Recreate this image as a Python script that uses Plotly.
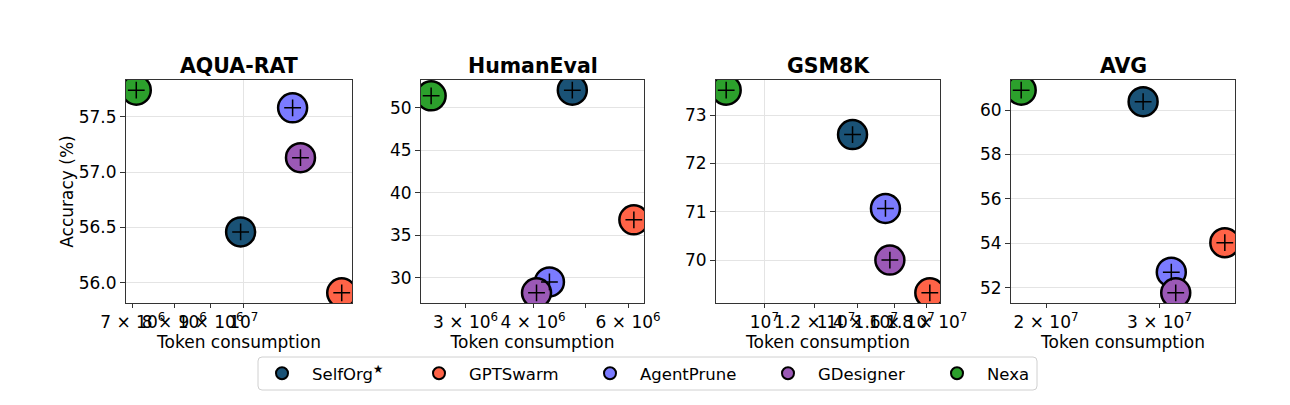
import numpy as np
import plotly.graph_objects as go

# ---------------- data ----------------
methods = ["SelfOrg<sup>★</sup>", "GPTSwarm", "AgentPrune", "GDesigner", "Nexa"]
colors = ["#1a5276", "#ff6347", "#7b7bff", "#9b59b6", "#2ca02c"]

datasets = ["AQUA-RAT", "HumanEval", "GSM8K", "AVG"]

aqua_tokens = [9.9e6, 1.37e7, 1.17e7, 1.20e7, 7.08e6]
aqua_acc = [56.46, 55.91, 57.58, 57.13, 57.74]

humaneval_tokens = [4.73e6, 6.15e6, 4.29e6, 4.06e6, 2.59e6]
humaneval_acc = [52.07, 36.83, 29.53, 28.24, 51.40]

gsm8k_tokens = [1.376e7, 1.82e7, 1.55e7, 1.575e7, 8.71e6]
gsm8k_acc = [72.60, 69.32, 71.07, 70.00, 73.52]

avg_tokens = [2.83e7, 3.79e7, 3.13e7, 3.18e7, 1.83e7]
avg_acc = [60.38, 54.03, 52.70, 51.77, 60.90]

# tick values / labels
x_tickvals = [
    [7e6, 8e6, 9e6, 1e7],
    [3e6, 4e6, 5e6, 6e6],
    [1e7, 1.2e7, 1.4e7, 1.6e7, 1.8e7],
    [2e7, 3e7],
]
x_ticktext = [
    ["7 × 10<sup>6</sup>", "8 × 10<sup>6</sup>", "9 × 10<sup>6</sup>", "10<sup>7</sup>"],
    ["3 × 10<sup>6</sup>", "4 × 10<sup>6</sup>", "", "6 × 10<sup>6</sup>"],
    ["10<sup>7</sup>", "1.2 × 10<sup>7</sup>", "1.4 × 10<sup>7</sup>", "1.6 × 10<sup>7</sup>", "1.8 × 10<sup>7</sup>"],
    ["2 × 10<sup>7</sup>", "3 × 10<sup>7</sup>"],
]
x_gridvals = [[1e7], [], [1e7], []]
y_tickvals = [
    [56.0, 56.5, 57.0, 57.5],
    [30, 35, 40, 45, 50],
    [70, 71, 72, 73],
    [52, 54, 56, 58, 60],
]
y_ticktext = [
    ["56.0", "56.5", "57.0", "57.5"],
    ["30", "35", "40", "45", "50"],
    ["70", "71", "72", "73"],
    ["52", "54", "56", "58", "60"],
]

all_tokens = [aqua_tokens, humaneval_tokens, gsm8k_tokens, avg_tokens]
all_acc = [aqua_acc, humaneval_acc, gsm8k_acc, avg_acc]

# ---------------- layout geometry ----------------
W, H = 1290, 405
x_px = [(126, 352), (421, 644), (716, 940), (1011, 1235)]
y_px = (80, 303)
legend_marker_px = [282, 439, 610, 788, 957]
legend_box_px = (258, 1037, 357, 390)
FONT = "DejaVu Sans"

fig = go.Figure()
layout = dict(
    width=W, height=H,
    margin=dict(l=0, r=0, t=0, b=0, autoexpand=False),
    paper_bgcolor="white", plot_bgcolor="white",
    font=dict(family=FONT, color="black", size=16),
    showlegend=True,
)

annotations = []
for k in range(4):
    xs = np.array(all_tokens[k])
    ys = np.array(all_acc[k])
    lx = np.log10(xs)
    lpad = 0.05 * (lx.max() - lx.min())
    ypad = 0.05 * (ys.max() - ys.min())
    xr = [lx.min() - lpad, lx.max() + lpad]
    yr = [ys.min() - ypad, ys.max() + ypad]

    sfx = "" if k == 0 else str(k + 1)
    xa, ya = "x" + sfx, "y" + sfx
    layout["xaxis" + sfx] = dict(
        type="log", range=xr,
        domain=[x_px[k][0] / W, x_px[k][1] / W],
        anchor=ya, automargin=False, tickangle=0,
        tickmode="array", tickvals=x_tickvals[k], ticktext=x_ticktext[k],
        ticks="outside", ticklen=4, tickcolor="#333", tickwidth=1,
        tickfont=dict(family=FONT, size=17),
        showgrid=False, zeroline=False,
        showline=True, mirror=True, linecolor="#333", linewidth=1,
        minor=dict(tickmode="array", tickvals=x_gridvals[k], showgrid=True,
                   gridcolor="#e4e4e4", gridwidth=1, ticks=""),
        title=dict(text="Token consumption", font=dict(family=FONT, size=17), standoff=0),
    )
    layout["yaxis" + sfx] = dict(
        range=yr,
        domain=[1 - y_px[1] / H, 1 - y_px[0] / H],
        anchor=xa, automargin=False,
        tickmode="array", tickvals=y_tickvals[k], ticktext=y_ticktext[k],
        ticks="outside", ticklen=5, tickcolor="#333", tickwidth=1,
        tickfont=dict(family=FONT, size=17),
        showgrid=True, gridcolor="#e4e4e4", gridwidth=1, zeroline=False,
        showline=True, mirror=True, linecolor="#333", linewidth=1,
    )
    if k == 0:
        layout["yaxis"]["title"] = dict(text="Accuracy (%)", font=dict(family=FONT, size=17), standoff=0)

    annotations.append(dict(
        text="<b>" + datasets[k] + "</b>", xref="paper", yref="paper",
        x=(x_px[k][0] + x_px[k][1]) / 2 / W, y=1 - 80 / H,
        xanchor="center", yanchor="bottom", showarrow=False,
        font=dict(family=FONT, size=20.5, color="black"),
    ))

    for i, m in enumerate(methods):
        lg = "legend" if i == 0 else "legend" + str(i + 1)
        fig.add_trace(go.Scatter(
            x=[all_tokens[k][i]], y=[all_acc[k][i]], mode="markers",
            name=m, legendgroup=m, showlegend=(k == 0), legend=lg,
            marker=dict(symbol="circle", size=29, color=colors[i],
                        line=dict(color="black", width=2.5)),
            xaxis=xa, yaxis=ya, cliponaxis=True,
        ))
    for i, m in enumerate(methods):
        fig.add_trace(go.Scatter(
            x=[all_tokens[k][i]], y=[all_acc[k][i]], mode="markers",
            showlegend=False, legendgroup=methods[i],
            marker=dict(symbol="cross-thin", size=12, color="black",
                        line=dict(color="black", width=1.5)),
            xaxis=xa, yaxis=ya, cliponaxis=True, hoverinfo="skip",
        ))

layout["annotations"] = annotations

# one legend per entry, positioned like the reference's columns
legend_cy = (legend_box_px[2] + legend_box_px[3]) / 2
for i in range(len(methods)):
    key = "legend" if i == 0 else "legend" + str(i + 1)
    layout[key] = dict(
        orientation="h", x=(legend_marker_px[i] - 30) / W, xanchor="left",
        y=1 - legend_cy / H, yanchor="middle",
        bgcolor="rgba(0,0,0,0)", borderwidth=0,
        font=dict(family=FONT, size=16.5),
        itemwidth=50, itemsizing="constant",
    )

# rounded legend frame
x0, x1, y0, y1 = legend_box_px
r = 4
path = (f"M {(x0 + r)/W},{1 - y0/H} L {(x1 - r)/W},{1 - y0/H} "
        f"Q {x1/W},{1 - y0/H} {x1/W},{1 - (y0 + r)/H} "
        f"L {x1/W},{1 - (y1 - r)/H} Q {x1/W},{1 - y1/H} {(x1 - r)/W},{1 - y1/H} "
        f"L {(x0 + r)/W},{1 - y1/H} Q {x0/W},{1 - y1/H} {x0/W},{1 - (y1 - r)/H} "
        f"L {x0/W},{1 - (y0 + r)/H} Q {x0/W},{1 - y0/H} {(x0 + r)/W},{1 - y0/H} Z")
layout["shapes"] = [dict(type="path", path=path, xref="paper", yref="paper",
                         line=dict(color="#d0d0d0", width=1), fillcolor="white",
                         layer="below")]

fig.update_layout(**layout)
fig.write_html("out.html")
